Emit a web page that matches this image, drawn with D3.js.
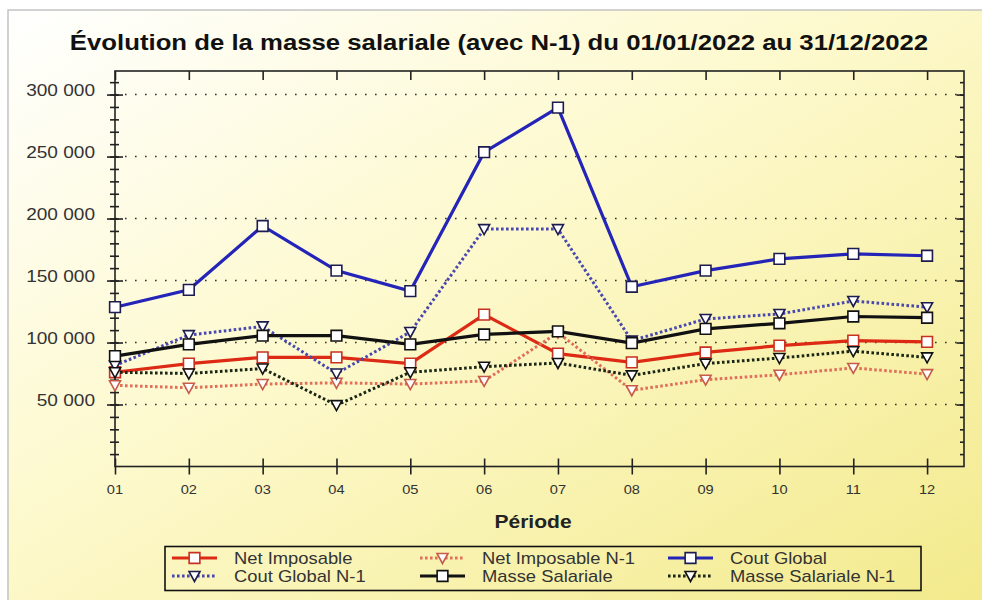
<!DOCTYPE html>
<html>
<head>
<meta charset="utf-8">
<script src="https://cdn.jsdelivr.net/npm/d3@7"></script>
<style>
  body { margin: 0; background: #fff; }
  svg { display: block; font-family: "Liberation Sans", Arial, sans-serif; }
</style>
</head>
<body>
<div id="chart"></div>
<script>
var months = ["01", "02", "03", "04", "05", "06", "07", "08", "09", "10", "11", "12"]

var netImposable     = [76000, 83000, 88000, 88000, 83000, 122500, 91000, 84000, 92000, 97500, 101500, 100500]
var netImposableN1   = [65500, 63500, 66500, 67500, 66500, 69000, 108000, 61500, 70000, 74000, 79500, 74500]
var coutGlobal       = [128500, 142500, 194000, 158000, 141500, 253500, 289500, 145000, 158000, 167500, 171500, 170000]
var coutGlobalN1     = [81500, 106000, 113000, 75000, 108500, 191500, 191500, 101500, 119000, 123000, 133500, 128500]
var masseSalariale   = [89000, 98500, 105500, 105500, 98500, 106500, 109000, 99500, 111000, 115500, 121000, 120000]
var masseSalarialeN1 = [76000, 75000, 79000, 49500, 76000, 80500, 83500, 73500, 83000, 87500, 93000, 88000]

var yTicks = [50000, 100000, 150000, 200000, 250000, 300000]

var series = [
  {name: "Net Imposable",        values: netImposable,     color: "#dd2a14", mark: "#c83020", dotted: false},
  {name: "Net Imposable N-1",    values: netImposableN1,   color: "#e0705a", mark: "#c85a48", dotted: true},
  {name: "Cout Global",          values: coutGlobal,       color: "#2424b8", mark: "#1c1c50", dotted: false},
  {name: "Cout Global N-1",      values: coutGlobalN1,     color: "#4848b0", mark: "#1c1c50", dotted: true},
  {name: "Masse Salariale",      values: masseSalariale,   color: "#111111", mark: "#111111", dotted: false},
  {name: "Masse Salariale N-1",  values: masseSalarialeN1, color: "#1a2616", mark: "#111111", dotted: true}
]

var W = 982, H = 600, sx = 1.17
var plot = {left: 115, right: 964, top: 71, bottom: 466.5}

var svg = d3.select("#chart").append("svg")
  .attr("width", W)
  .attr("height", H)

var defs = svg.append("defs")
var grad = defs.append("linearGradient").attr("id", "bg")
  .attr("x1", 0).attr("y1", 0).attr("x2", 1).attr("y2", 1)
grad.append("stop").attr("offset", "0%").attr("stop-color", "#ffffff")
grad.append("stop").attr("offset", "45%").attr("stop-color", "#fdf9cc")
grad.append("stop").attr("offset", "100%").attr("stop-color", "#f3ea8c")

// panel
svg.append("rect")
  .attr("x", 8).attr("y", 10)
  .attr("width", W - 8).attr("height", H - 10)
  .attr("fill", "url(#bg)")
svg.append("path")
  .attr("d", "M8," + H + "V10H" + W)
  .attr("fill", "none")
  .attr("stroke", "#c4c4c4")
  .attr("stroke-width", 1.5)

function label(g, x, y, txt, size, weight, anchor, color) {
  return g.append("text")
    .attr("transform", "translate(" + x + "," + y + ") scale(" + sx + ",1)")
    .attr("text-anchor", anchor)
    .attr("font-size", size)
    .attr("font-weight", weight)
    .attr("fill", color)
    .text(txt)
}

label(svg, 499, 50, "Évolution de la masse salariale (avec N-1) du 01/01/2022 au 31/12/2022", 22, "bold", "middle", "#111")

var x = d3.scaleLinear().domain([0, 11.5]).range([plot.left, plot.right])
var y = d3.scaleLinear().domain([0, 319000]).range([plot.bottom, plot.top])

// gridlines
svg.append("g")
  .selectAll("line")
  .data(yTicks)
  .join("line")
    .attr("x1", plot.left).attr("x2", plot.right)
    .attr("y1", function(d) { return y(d) })
    .attr("y2", function(d) { return y(d) })
    .attr("stroke", "#333")
    .attr("stroke-width", 1.6)
    .attr("stroke-dasharray", "1.6,8.4")

// frame
svg.append("rect")
  .attr("x", plot.left).attr("y", plot.top)
  .attr("width", plot.right - plot.left)
  .attr("height", plot.bottom - plot.top)
  .attr("fill", "none")
  .attr("stroke", "#222")
  .attr("stroke-width", 1.6)

var minor = d3.range(10000, 319000, 10000)
var idx = d3.range(months.length)

function tickAxis(axis, tx, ty) {
  var g = svg.append("g")
    .attr("transform", "translate(" + tx + "," + ty + ")")
    .call(axis)
  g.select(".domain").remove()
  g.selectAll("text").remove()
  g.selectAll("line").attr("stroke", "#222").attr("stroke-width", 1.6)
  return g
}

// left axis: crossing ticks
tickAxis(d3.axisLeft(y).tickValues(minor).tickSize(5), plot.left, 0)
tickAxis(d3.axisRight(y).tickValues(minor).tickSize(4), plot.left, 0)
tickAxis(d3.axisLeft(y).tickValues(yTicks).tickSize(8), plot.left, 0)
tickAxis(d3.axisRight(y).tickValues(yTicks).tickSize(8), plot.left, 0)
// right axis: inner ticks
tickAxis(d3.axisLeft(y).tickValues(minor).tickSize(4), plot.right, 0)
tickAxis(d3.axisLeft(y).tickValues(yTicks).tickSize(7.5), plot.right, 0)
// bottom axis: crossing ticks
tickAxis(d3.axisBottom(x).tickValues(idx).tickSize(8), 0, plot.bottom)
tickAxis(d3.axisTop(x).tickValues(idx).tickSize(8), 0, plot.bottom)
// top axis: inner ticks
tickAxis(d3.axisBottom(x).tickValues(idx).tickSize(9), 0, plot.top)

var fmt = d3.format(",")
var yLab = svg.append("g")
yTicks.forEach(function(v) {
  label(yLab, 95, y(v) + 1.5, fmt(v).replace(/,/g, " "), 16.3, "normal", "end", "#333")
})
var xLab = svg.append("g")
months.forEach(function(m, i) {
  label(xLab, x(i), 494, m, 12.5, "normal", "middle", "#333")
})

label(svg, 533, 528, "Période", 18, "bold", "middle", "#222")

// series
var line = d3.line()
  .x(function(d, i) { return x(i) })
  .y(function(d) { return y(d) })

var square = d3.symbol().type(d3.symbolSquare).size(115)
var tri = "M-5.5,-4.5L5.5,-4.5L0,5.5Z"

function marker(g, s, px, py) {
  g.append("path")
    .attr("transform", "translate(" + px + "," + py + ")")
    .attr("d", s.dotted ? tri : square())
    .attr("fill", "#fff")
    .attr("stroke", s.mark)
    .attr("stroke-width", 1.6)
}

series.forEach(function(s) {
  var g = svg.append("g")
  g.append("path")
    .datum(s.values)
    .attr("d", line)
    .attr("fill", "none")
    .attr("stroke", s.color)
    .attr("stroke-width", s.dotted ? 3 : 3.2)
    .attr("stroke-dasharray", s.dotted ? "2.6,2.4" : null)
  s.values.forEach(function(v, i) { marker(g, s, x(i), y(v)) })
})

// legend
var leg = svg.append("g")
leg.append("rect")
  .attr("x", 165).attr("y", 546.5)
  .attr("width", 756).attr("height", 44)
  .attr("fill", "none")
  .attr("stroke", "#111")
  .attr("stroke-width", 1.6)

var legX = d3.scalePoint().domain([0, 1, 2]).range([172, 668])
var legY = d3.scalePoint().domain([0, 1]).range([558, 576])

series.forEach(function(s, i) {
  var lx = legX(i % 3), ly = legY(Math.floor(i / 3))
  leg.append("line")
    .attr("x1", lx).attr("x2", lx + 45)
    .attr("y1", ly).attr("y2", ly)
    .attr("stroke", s.color)
    .attr("stroke-width", 3)
    .attr("stroke-dasharray", s.dotted ? "2.6,2.4" : null)
  marker(leg, s, lx + 22.5, ly)
  label(leg, lx + 62, ly + 5.8, s.name, 15.7, "normal", "start", "#333")
})
</script>
</body>
</html>
